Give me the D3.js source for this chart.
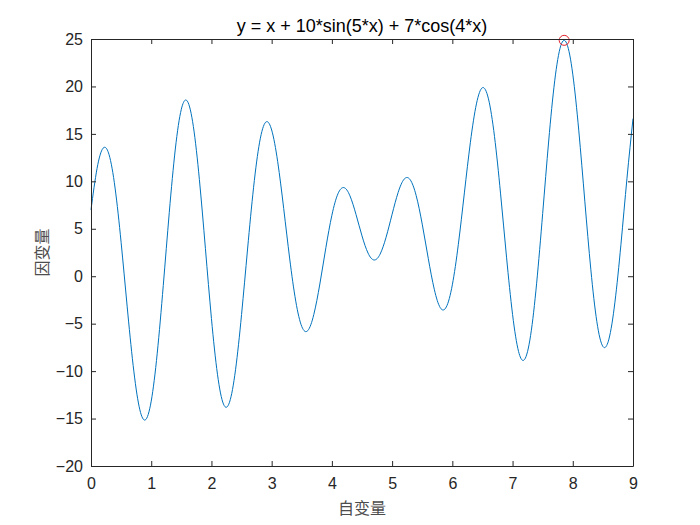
<!DOCTYPE html>
<html>
<head>
<meta charset="utf-8">
<script src="https://cdn.jsdelivr.net/npm/d3@7"></script>
<style>
  body { margin: 0; background: #fff; }
  .axis text { font: 16px "Liberation Sans", Arial, sans-serif; fill: #262626; }
  .axis path, .axis line { stroke: #262626; }
</style>
</head>
<body>
<script>
// sampled values of y = x + 10*sin(5*x) + 7*cos(4*x), x = 0, 0.1, ... 9
var xs = d3.range(0, 91).map(function(i) { return i / 10; });
var ys = [7.00, 11.34, 13.49, 12.81, 9.29, 3.57, -3.15, -9.40, -13.76, -15.15,
  -13.16, -8.11, -0.98, 6.73, 13.40, 17.60, 18.45, 15.77, 10.18, 2.91,
  -4.46, -10.33, -13.48, -13.28, -9.86, -4.04, 2.87, 9.38, 14.13, 16.23,
  15.41, 12.07, 7.13, 1.82, -2.63, -5.30, -5.73, -4.03, -0.82, 3.00,
  6.43, 8.68, 9.34, 8.47, 6.52, 4.25, 2.44, 1.71, 2.32, 4.11,
  6.53, 8.83, 10.23, 10.17, 8.49, 5.49, 1.89, -1.37, -3.32, -3.24,
  -0.91, 3.37, 8.78, 14.12, 18.16, 19.87, 18.69, 14.74, 8.76, 2.01,
  -4.02, -7.94, -8.77, -6.23, -0.73, 6.60, 14.25, 20.59, 24.28, 24.52,
  21.29, 15.32, 7.91, 0.69, -4.80, -7.40, -6.63, -2.73, 3.37, 10.32,
  16.61];
var peakX = [7.857];
var peakY = [24.86];
var xTicks = [0, 1, 2, 3, 4, 5, 6, 7, 8, 9];
var yTicks = [-20, -15, -10, -5, 0, 5, 10, 15, 20, 25];

var svg = d3.select("body").append("svg")
    .attr("width", 700)
    .attr("height", 525);

var margin = {top: 39, right: 67, bottom: 59, left: 91},
    width = 700 - margin.left - margin.right,
    height = 525 - margin.top - margin.bottom,
    g = svg.append("g").attr("transform", "translate(" + margin.left + "," + margin.top + ")");

var x = d3.scaleLinear().domain([0, 9]).range([0, width]);
var y = d3.scaleLinear().domain([-20, 25]).range([height, 0]);

var line = d3.line()
    .curve(d3.curveNatural)
    .x(function(d, i) { return x(xs[i]); })
    .y(function(d) { return y(d); });

g.append("path")
    .datum(ys)
    .attr("fill", "none")
    .attr("stroke", "#0072BD")
    .attr("stroke-width", 1)
    .attr("d", line);

g.selectAll(".peak")
    .data(peakX)
    .enter().append("circle")
      .attr("class", "peak")
      .attr("cx", function(d) { return x(d); })
      .attr("cy", function(d, i) { return y(peakY[i]); })
      .attr("r", 5)
      .attr("fill", "none")
      .attr("stroke", "#e0202a")
      .attr("stroke-width", 1);

// axes, ticks point inward like matlab
g.append("g")
    .attr("class", "axis")
    .attr("transform", "translate(0," + height + ")")
    .call(d3.axisBottom(x).tickValues(xTicks).tickSizeInner(-5).tickSizeOuter(0).tickPadding(12));

g.append("g")
    .attr("class", "axis")
    .call(d3.axisLeft(y).tickValues(yTicks).tickSizeInner(-5).tickSizeOuter(0).tickPadding(8));

g.append("g")
    .attr("class", "axis")
    .call(d3.axisTop(x).tickValues(xTicks).tickSizeInner(-5).tickSizeOuter(0).tickFormat(""));

g.append("g")
    .attr("class", "axis")
    .attr("transform", "translate(" + width + ",0)")
    .call(d3.axisRight(y).tickValues(yTicks).tickSizeInner(-5).tickSizeOuter(0).tickFormat(""));

g.selectAll(".axis .domain").attr("stroke-width", 1);

svg.append("text")
    .attr("x", margin.left + width / 2)
    .attr("y", 32)
    .attr("text-anchor", "middle")
    .style("font", "18px 'Liberation Sans', Arial, sans-serif")
    .attr("fill", "#000")
    .text("y = x + 10*sin(5*x) + 7*cos(4*x)");

svg.append("text")
    .attr("x", margin.left + width / 2)
    .attr("y", 514)
    .attr("text-anchor", "middle")
    .style("font", "16px 'Noto Sans CJK SC', sans-serif")
    .attr("fill", "#4d4d4d")
    .text("自变量");

svg.append("text")
    .attr("transform", "translate(48," + (margin.top + height / 2) + ") rotate(-90)")
    .attr("text-anchor", "middle")
    .style("font", "16px 'Noto Sans CJK SC', sans-serif")
    .attr("fill", "#4d4d4d")
    .text("因变量");
</script>
</body>
</html>
